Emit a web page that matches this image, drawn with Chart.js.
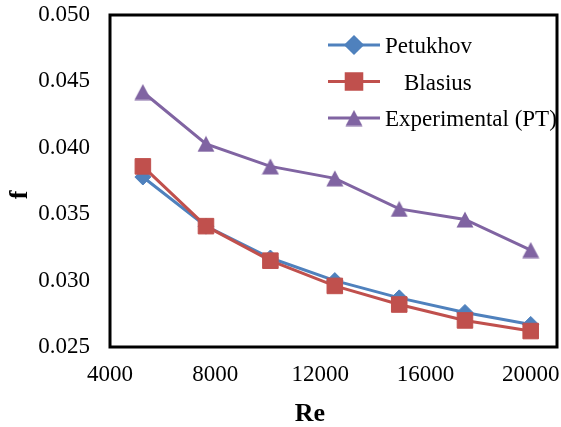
<!DOCTYPE html>
<html>
<head>
<meta charset="utf-8">
<script src="https://cdn.jsdelivr.net/npm/chart.js@4"></script>
<style>
  html, body { margin: 0; padding: 0; background: #fff; }
  #wrap { width: 561px; height: 427px; position: relative; }
</style>
</head>
<body>
<div id="wrap"><canvas id="chart"></canvas></div>
<script>
const reValues = [5250, 7650, 10100, 12550, 15000, 17500, 20000];
const petukhov = [0.0378, 0.0341, 0.0317, 0.0300, 0.0287, 0.0276, 0.0267];
const blasius = [0.0386, 0.0341, 0.0315, 0.0296, 0.0282, 0.0270, 0.0262];
const experimental = [0.0442, 0.0403, 0.0386, 0.0377, 0.0354, 0.0346, 0.0323];
const xTicks = [4000, 8000, 12000, 16000, 20000];
const seriesNames = ['Petukhov', 'Blasius', 'Experimental (PT)'];

const blue = '#4F81BD', red = '#C0504D', purple = '#8064A2';
const serif = "'Liberation Serif', 'Times New Roman', serif";

// triangle marker centred in its box, like Excel's
function makeTriangle(color) {
    const c = document.createElement('canvas');
    c.width = 18; c.height = 17;
    const g = c.getContext('2d');
    g.fillStyle = color;
    g.beginPath();
    g.moveTo(9, 0.5);
    g.lineTo(17.5, 16.5);
    g.lineTo(0.5, 16.5);
    g.closePath();
    g.fill();
    return c;
}
const triangle = makeTriangle(purple);

function points(ys) {
    return reValues.map((x, i) => ({ x: x, y: ys[i] }));
}

const frame = {
    id: 'frame',
    afterDatasetsDraw(chart) {
        const ctx = chart.ctx;
        const a = chart.chartArea;
        ctx.save();
        // legend inside the plot
        const rows = [
            { y: 45, color: blue, style: 'rectRot', r: 8, text: seriesNames[0], tx: 385 },
            { y: 81.5, color: red, style: 'rect', r: 11, text: seriesNames[1], tx: 404 },
            { y: 118, color: purple, style: triangle, r: 9, text: seriesNames[2], tx: 385 }
        ];
        rows.forEach(row => {
            ctx.strokeStyle = row.color;
            ctx.lineWidth = 3;
            ctx.beginPath();
            ctx.moveTo(328, row.y);
            ctx.lineTo(380, row.y);
            ctx.stroke();
            ctx.fillStyle = row.color;
            Chart.helpers.drawPoint(ctx, { pointStyle: row.style, radius: row.r, borderWidth: 1 }, 354, row.y);
            ctx.fill();
            ctx.fillStyle = '#000';
            ctx.font = '23px ' + serif;
            ctx.textAlign = 'left';
            ctx.textBaseline = 'alphabetic';
            ctx.fillText(row.text, row.tx, row.y + 8);
        });
        // plot border
        ctx.strokeStyle = '#000';
        ctx.lineWidth = 3;
        ctx.strokeRect(a.left, a.top, a.right - a.left, a.bottom - a.top);
        // axis titles
        ctx.fillStyle = '#000';
        ctx.font = 'bold 26px ' + serif;
        ctx.textAlign = 'center';
        ctx.textBaseline = 'alphabetic';
        ctx.fillText('Re', 310, 421);
        ctx.translate(27, 195);
        ctx.rotate(-Math.PI / 2);
        ctx.fillText('f', 0, 0);
        ctx.restore();
    }
};

const config = {
    type: 'line',
    data: {
        datasets: [
            {
                label: seriesNames[0],
                data: points(petukhov),
                borderColor: blue,
                backgroundColor: blue,
                borderWidth: 3,
                pointStyle: 'rectRot',
                pointRadius: 8,
                pointBorderWidth: 1,
                order: 2
            },
            {
                label: seriesNames[1],
                data: points(blasius),
                borderColor: red,
                backgroundColor: red,
                borderWidth: 3,
                pointStyle: 'rect',
                pointRadius: 11,
                pointBorderWidth: 1,
                order: 1
            },
            {
                label: seriesNames[2],
                data: points(experimental),
                borderColor: purple,
                backgroundColor: purple,
                borderWidth: 3,
                pointStyle: triangle,
                order: 0
            }
        ]
    },
    options: {
        responsive: true,
        maintainAspectRatio: false,
        animation: false,
        layout: { autoPadding: false, padding: { left: 0, right: 4, top: 15, bottom: 0 } },
        scales: {
            x: {
                type: 'linear',
                min: 4000,
                max: 21000,
                afterBuildTicks: (scale) => {
                    scale.ticks = xTicks.map(v => ({ value: v }));
                },
                afterFit: (scale) => {
                    scale.height = 80;
                    scale.paddingLeft = 0;
                    scale.paddingRight = 0;
                },
                grid: { display: false, drawTicks: false },
                border: { display: false },
                ticks: {
                    color: '#000',
                    font: { family: serif, size: 23 },
                    padding: 14,
                    maxRotation: 0,
                    callback: (v) => String(v)
                }
            },
            y: {
                min: 0.025,
                max: 0.05,
                afterFit: (scale) => {
                    scale.width = 110;
                    scale.paddingTop = 0;
                    scale.paddingBottom = 0;
                },
                grid: { display: false, drawTicks: false },
                border: { display: false },
                ticks: {
                    stepSize: 0.005,
                    color: '#000',
                    font: { family: serif, size: 23 },
                    padding: 20,
                    callback: (v) => v.toFixed(3)
                }
            }
        },
        plugins: {
            legend: { display: false },
            tooltip: { enabled: false }
        }
    },
    plugins: [frame]
};

new Chart(document.getElementById('chart'), config);
</script>
</body>
</html>
